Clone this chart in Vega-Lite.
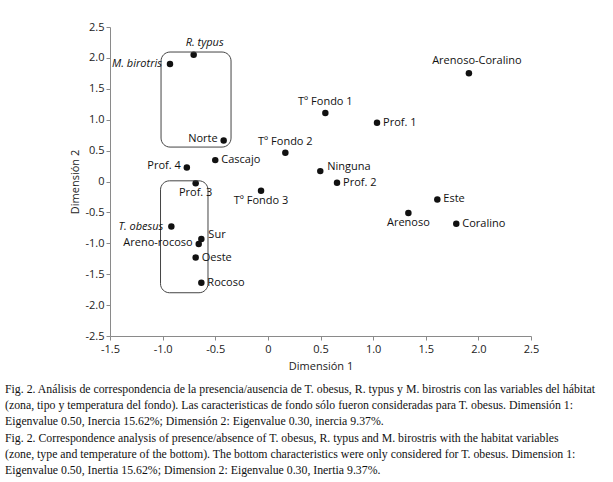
{
  "$schema": "https://vega.github.io/schema/vega-lite/v6.json",
  "width": 421,
  "height": 309,
  "autosize": "none",
  "padding": {"left": 110, "top": 27, "right": 82, "bottom": 146},
  "background": "white",
  "config": {"view": {"stroke": null}, "font": "Open Sans", "axis": {"labelOverlap": false, "labelFlush": false, "labelBound": false}},
  "title": {
    "text": [
      "Fig. 2. Análisis de correspondencia de la presencia/ausencia de T. obesus, R. typus y M. birostris con las variables del hábitat",
      "(zona, tipo y temperatura del fondo). Las caracteristicas de fondo sólo fueron consideradas para T. obesus. Dimensión 1:",
      "Eigenvalue 0.50, Inercia 15.62%; Dimensión 2: Eigenvalue 0.30, inercia 9.37%.",
      "Fig. 2. Correspondence analysis of presence/absence of T. obesus, R. typus and M. birostris with the habitat variables",
      "(zone, type and temperature of the bottom). The bottom characteristics were only considered for T. obesus. Dimension 1:",
      "Eigenvalue 0.50, Inertia 15.62%; Dimension 2: Eigenvalue 0.30, Inertia 9.37%."
    ],
    "orient": "bottom",
    "anchor": "start",
    "frame": "group",
    "dx": -105,
    "offset": 13,
    "font": "Liberation Serif",
    "fontSize": 11.8,
    "fontWeight": "normal",
    "lineHeight": 16.2,
    "color": "#111"
  },
  "datasets": {
    "points": [
      {"label": "M. birotris", "d1": -0.93, "d2": 1.90},
      {"label": "R. typus", "d1": -0.705, "d2": 2.05},
      {"label": "Norte", "d1": -0.42, "d2": 0.665},
      {"label": "Tº Fondo 1", "d1": 0.546, "d2": 1.11},
      {"label": "Tº Fondo 2", "d1": 0.166, "d2": 0.465},
      {"label": "Cascajo", "d1": -0.50, "d2": 0.346},
      {"label": "Prof. 4", "d1": -0.77, "d2": 0.228},
      {"label": "Ninguna", "d1": 0.498, "d2": 0.168},
      {"label": "Arenoso-Coralino", "d1": 1.91, "d2": 1.75},
      {"label": "Prof. 1", "d1": 1.037, "d2": 0.95},
      {"label": "Prof. 2", "d1": 0.657, "d2": -0.02},
      {"label": "Este", "d1": 1.61, "d2": -0.29},
      {"label": "Arenoso", "d1": 1.335, "d2": -0.51},
      {"label": "Coralino", "d1": 1.79, "d2": -0.685},
      {"label": "Prof. 3", "d1": -0.686, "d2": -0.03},
      {"label": "Tº Fondo 3", "d1": -0.065, "d2": -0.15},
      {"label": "T. obesus", "d1": -0.917, "d2": -0.73},
      {"label": "Sur", "d1": -0.632, "d2": -0.93},
      {"label": "Areno-rocoso", "d1": -0.657, "d2": -1.01},
      {"label": "Oeste", "d1": -0.686, "d2": -1.23},
      {"label": "Rocoso", "d1": -0.632, "d2": -1.64}
    ],
    "boxes": [
      {"group": "upper", "x1": -1.015, "x2": -0.35, "y1": 2.095, "y2": 0.557},
      {"group": "lower", "x1": -1.02, "x2": -0.569, "y1": 0.011, "y2": -1.80}
    ]
  },
  "layer": [
    {
      "data": {"name": "points"},
      "mark": {"type": "circle", "size": 42, "color": "#111", "opacity": 1},
      "encoding": {
        "x": {"field": "d1", "type": "quantitative", "scale": {"domain": [-1.5, 2.5], "nice": false, "zero": false},
          "axis": {"title": "Dimensión 1", "tickCount": 8,
            "labelExpr": "datum.value == 0 ? '0' : replace(format(datum.value, '.1f'), '−', '-')",
            "grid": false, "domainColor": "#8a8a8a", "tickColor": "#8a8a8a", "tickSize": 4,
            "labelFont": "Open Sans", "labelFontSize": 11, "labelColor": "#222", "labelPadding": 3,
            "titleFont": "Open Sans", "titleFontSize": 11, "titleFontWeight": "normal", "titleColor": "#222", "titlePadding": 6}},
        "y": {"field": "d2", "type": "quantitative", "scale": {"domain": [-2.5, 2.5], "nice": false, "zero": false},
          "axis": {"title": "Dimensión 2", "tickCount": 10,
            "labelExpr": "datum.value == 0 ? '0' : replace(format(datum.value, '.1f'), '−', '-')",
            "grid": false, "domainColor": "#8a8a8a", "tickColor": "#8a8a8a", "tickSize": 4,
            "labelFont": "Open Sans", "labelFontSize": 11, "labelColor": "#222", "labelPadding": 2,
            "titleFont": "Open Sans", "titleFontSize": 11, "titleFontWeight": "normal", "titleColor": "#222", "titlePadding": 4}}
      }
    },
    {
      "data": {"name": "boxes"},
      "mark": {"type": "rect", "cornerRadius": 9, "fillOpacity": 0, "fill": "white", "stroke": "#444", "strokeWidth": 1},
      "encoding": {
        "x": {"field": "x1", "type": "quantitative"},
        "x2": {"field": "x2"},
        "y": {"field": "y1", "type": "quantitative"},
        "y2": {"field": "y2"}
      }
    },
    {
      "data": {"name": "points"},
      "transform": [{"filter": {"field": "label", "oneOf": ["R. typus"]}}],
      "mark": {"type": "text", "font": "Open Sans", "fontSize": 11, "fontStyle": "italic", "color": "#111", "baseline": "middle", "align": "center", "dx": 11, "dy": -12},
      "encoding": {"x": {"field": "d1", "type": "quantitative"}, "y": {"field": "d2", "type": "quantitative"}, "text": {"field": "label"}}
    },
    {
      "data": {"name": "points"},
      "transform": [{"filter": {"field": "label", "oneOf": ["Arenoso-Coralino"]}}],
      "mark": {"type": "text", "font": "Open Sans", "fontSize": 11, "color": "#111", "baseline": "middle", "align": "center", "dx": 8, "dy": -12},
      "encoding": {"x": {"field": "d1", "type": "quantitative"}, "y": {"field": "d2", "type": "quantitative"}, "text": {"field": "label"}}
    },
    {
      "data": {"name": "points"},
      "transform": [{"filter": {"field": "label", "oneOf": ["Tº Fondo 1", "Tº Fondo 2"]}}],
      "mark": {"type": "text", "font": "Open Sans", "fontSize": 11, "color": "#111", "baseline": "middle", "align": "center", "dx": 0, "dy": -11},
      "encoding": {"x": {"field": "d1", "type": "quantitative"}, "y": {"field": "d2", "type": "quantitative"}, "text": {"field": "label"}}
    },
    {
      "data": {"name": "points"},
      "transform": [{"filter": {"field": "label", "oneOf": ["M. birotris", "T. obesus"]}}],
      "mark": {"type": "text", "font": "Open Sans", "fontSize": 11, "fontStyle": "italic", "color": "#111", "baseline": "middle", "align": "right", "dx": -8, "dy": 0},
      "encoding": {"x": {"field": "d1", "type": "quantitative"}, "y": {"field": "d2", "type": "quantitative"}, "text": {"field": "label"}}
    },
    {
      "data": {"name": "points"},
      "transform": [{"filter": {"field": "label", "oneOf": ["Norte", "Prof. 4", "Areno-rocoso"]}}],
      "mark": {"type": "text", "font": "Open Sans", "fontSize": 11, "color": "#111", "baseline": "middle", "align": "right", "dx": -6, "dy": -1},
      "encoding": {"x": {"field": "d1", "type": "quantitative"}, "y": {"field": "d2", "type": "quantitative"}, "text": {"field": "label"}}
    },
    {
      "data": {"name": "points"},
      "transform": [{"filter": {"field": "label", "oneOf": ["Cascajo", "Prof. 1", "Prof. 2", "Este", "Coralino", "Oeste", "Rocoso"]}}],
      "mark": {"type": "text", "font": "Open Sans", "fontSize": 11, "color": "#111", "baseline": "middle", "align": "left", "dx": 6, "dy": 0},
      "encoding": {"x": {"field": "d1", "type": "quantitative"}, "y": {"field": "d2", "type": "quantitative"}, "text": {"field": "label"}}
    },
    {
      "data": {"name": "points"},
      "transform": [{"filter": {"field": "label", "oneOf": ["Sur", "Ninguna"]}}],
      "mark": {"type": "text", "font": "Open Sans", "fontSize": 11, "color": "#111", "baseline": "middle", "align": "left", "dx": 7, "dy": -4},
      "encoding": {"x": {"field": "d1", "type": "quantitative"}, "y": {"field": "d2", "type": "quantitative"}, "text": {"field": "label"}}
    },
    {
      "data": {"name": "points"},
      "transform": [{"filter": {"field": "label", "oneOf": ["Arenoso", "Tº Fondo 3", "Prof. 3"]}}],
      "mark": {"type": "text", "font": "Open Sans", "fontSize": 11, "color": "#111", "baseline": "middle", "align": "center", "dx": 0, "dy": 10},
      "encoding": {"x": {"field": "d1", "type": "quantitative"}, "y": {"field": "d2", "type": "quantitative"}, "text": {"field": "label"}}
    }
  ]
}
